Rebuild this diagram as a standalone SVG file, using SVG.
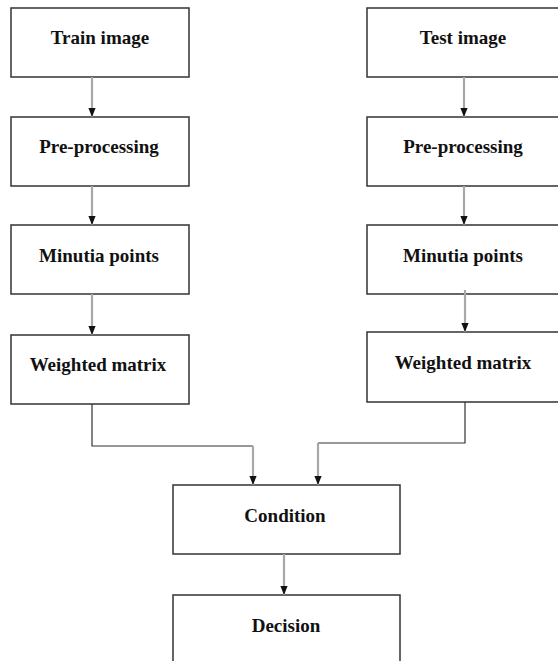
<svg xmlns="http://www.w3.org/2000/svg" width="558" height="661" viewBox="0 0 558 661">
<defs>
<style>
.box{fill:#fff;stroke:#333;stroke-width:1.5}
.lbl{font-family:"Liberation Serif","Times New Roman",serif;font-weight:bold;font-size:19px;fill:#111;text-anchor:middle}
.arr{fill:none;stroke:#a8a8a8;stroke-width:2.2}
.elb{fill:none;stroke:#333;stroke-width:1.2}
</style>
<marker id="ah" viewBox="0 0 10 8" refX="10" refY="4" markerWidth="9" markerHeight="8" markerUnits="userSpaceOnUse" orient="auto">
<path d="M0,0 L10,4 L0,8 Z" fill="#111"/>
</marker>
</defs>
<rect width="558" height="661" fill="#fff"/>
<g id="train"><rect class="box" x="11" y="8" width="178" height="69"/><text class="lbl" x="100" y="44">Train image</text></g>
<g id="pre-left"><rect class="box" x="11" y="117" width="178" height="69"/><text class="lbl" x="99" y="153">Pre-processing</text></g>
<g id="minutia-left"><rect class="box" x="11" y="225" width="178" height="69"/><text class="lbl" x="99" y="262">Minutia points</text></g>
<g id="weighted-left"><rect class="box" x="11" y="335" width="178" height="69"/><text class="lbl" x="98" y="371">Weighted matrix</text></g>
<g id="test"><rect class="box" x="367" y="8" width="195" height="69"/><text class="lbl" x="463" y="44">Test image</text></g>
<g id="pre-right"><rect class="box" x="367" y="117" width="195" height="69"/><text class="lbl" x="463" y="153">Pre-processing</text></g>
<g id="minutia-right"><rect class="box" x="367" y="225" width="195" height="69"/><text class="lbl" x="463" y="262">Minutia points</text></g>
<g id="weighted-right"><rect class="box" x="367" y="332" width="195" height="70"/><text class="lbl" x="463" y="369">Weighted matrix</text></g>
<g id="condition"><rect class="box" x="173" y="485" width="227" height="69"/><text class="lbl" x="285" y="522">Condition</text></g>
<g id="decision"><rect class="box" x="173" y="595" width="227" height="75"/><text class="lbl" x="286" y="632">Decision</text></g>
<g id="connectors">
<line class="arr" x1="92" y1="77" x2="92" y2="117" marker-end="url(#ah)"/>
<line class="arr" x1="92" y1="186" x2="92" y2="225" marker-end="url(#ah)"/>
<line class="arr" x1="92" y1="294" x2="92" y2="335" marker-end="url(#ah)"/>
<line class="arr" x1="464" y1="77" x2="464" y2="117" marker-end="url(#ah)"/>
<line class="arr" x1="464" y1="186" x2="464" y2="225" marker-end="url(#ah)"/>
<line class="arr" x1="465" y1="290" x2="465" y2="332" marker-end="url(#ah)"/>
<polyline class="elb" points="92,404 92,446 253,446"/>
<line class="arr" x1="253" y1="446" x2="253" y2="485" marker-end="url(#ah)"/>
<polyline class="elb" points="465,402 465,443 318,443"/>
<line class="arr" x1="318" y1="443" x2="318" y2="485" marker-end="url(#ah)"/>
<line class="arr" x1="284" y1="554" x2="284" y2="595" marker-end="url(#ah)"/>
</g>
</svg>
